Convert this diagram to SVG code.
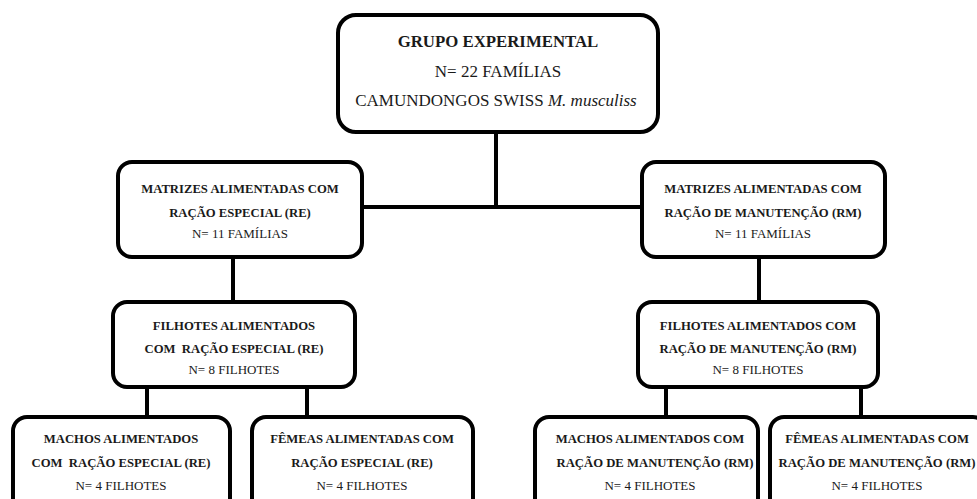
<svg xmlns="http://www.w3.org/2000/svg" width="977" height="499" viewBox="0 0 977 499">
<style>
.box{fill:#fff;stroke:#000;stroke-width:4}
.ln{stroke:#000;stroke-width:4;fill:none}
text{font-family:'Liberation Serif','DejaVu Serif',serif;fill:#1a1a1a;text-anchor:middle}
.b{font-weight:bold;font-size:12.7px}
.r{font-size:13px}
.tb{font-weight:bold;font-size:16.8px}
.tr{font-size:17px}
</style>
<rect width="977" height="499" fill="#fff"/>
<g id="connectors">
<path class="ln" d="M496 132V207M362 207H642"/>
<path class="ln" d="M233 257V302M759 257V302"/>
<path class="ln" d="M147 387V417M307 387V417M666 387V417M861 387V417"/>
</g>
<g id="top">
<rect class="box" x="338" y="15" width="320" height="117" rx="18"/>
<text class="tb" x="498" y="47">GRUPO EXPERIMENTAL</text>
<text class="tr" x="498" y="77">N= 22 FAMÍLIAS</text>
<text class="tr" x="496" y="106">CAMUNDONGOS SWISS <tspan font-style="italic">M. musculiss</tspan></text>
</g>
<g id="matrizes-re">
<rect class="box" x="118" y="162" width="244" height="95" rx="14"/>
<text class="b" x="240" y="193">MATRIZES ALIMENTADAS COM</text>
<text class="b" x="240" y="217">RAÇÃO ESPECIAL (RE)</text>
<text class="r" x="240" y="238">N= 11 FAMÍLIAS</text>
</g>
<g id="matrizes-rm">
<rect class="box" x="642" y="162" width="243" height="95" rx="14"/>
<text class="b" x="763" y="193">MATRIZES ALIMENTADAS COM</text>
<text class="b" x="763" y="217">RAÇÃO DE MANUTENÇÃO (RM)</text>
<text class="r" x="763" y="238">N= 11 FAMÍLIAS</text>
</g>
<g id="filhotes-re">
<rect class="box" x="113" y="302" width="242" height="85" rx="14"/>
<text class="b" x="234" y="330">FILHOTES ALIMENTADOS</text>
<text class="b" x="234" y="353" xml:space="preserve">COM  RAÇÃO ESPECIAL (RE)</text>
<text class="r" x="234" y="374">N= 8 FILHOTES</text>
</g>
<g id="filhotes-rm">
<rect class="box" x="638" y="302" width="240" height="85" rx="14"/>
<text class="b" x="758" y="330">FILHOTES ALIMENTADOS COM</text>
<text class="b" x="758" y="353">RAÇÃO DE MANUTENÇÃO (RM)</text>
<text class="r" x="758" y="374">N= 8 FILHOTES</text>
</g>
<g id="machos-re">
<rect class="box" x="13" y="417" width="217" height="100" rx="14"/>
<text class="b" x="121" y="443">MACHOS ALIMENTADOS</text>
<text class="b" x="121" y="467" xml:space="preserve">COM  RAÇÃO ESPECIAL (RE)</text>
<text class="r" x="121" y="490">N= 4 FILHOTES</text>
</g>
<g id="femeas-re">
<rect class="box" x="252" y="417" width="221" height="100" rx="14"/>
<text class="b" x="362" y="443">FÊMEAS ALIMENTADAS COM</text>
<text class="b" x="362" y="467">RAÇÃO ESPECIAL (RE)</text>
<text class="r" x="362" y="490">N= 4 FILHOTES</text>
</g>
<g id="machos-rm">
<rect class="box" x="535" y="417" width="223" height="100" rx="14"/>
<text class="b" x="650" y="443">MACHOS ALIMENTADOS COM</text>
<text class="b" x="655" y="467" font-size="12.1px">RAÇÃO DE MANUTENÇÃO (RM)</text>
<text class="r" x="650" y="490">N= 4 FILHOTES</text>
</g>
<g id="femeas-rm">
<rect class="box" x="770" y="417" width="217" height="100" rx="14"/>
<text class="b" x="877" y="443">FÊMEAS ALIMENTADAS COM</text>
<text class="b" x="877" y="467">RAÇÃO DE MANUTENÇÃO (RM)</text>
<text class="r" x="877" y="490">N= 4 FILHOTES</text>
</g>
</svg>
